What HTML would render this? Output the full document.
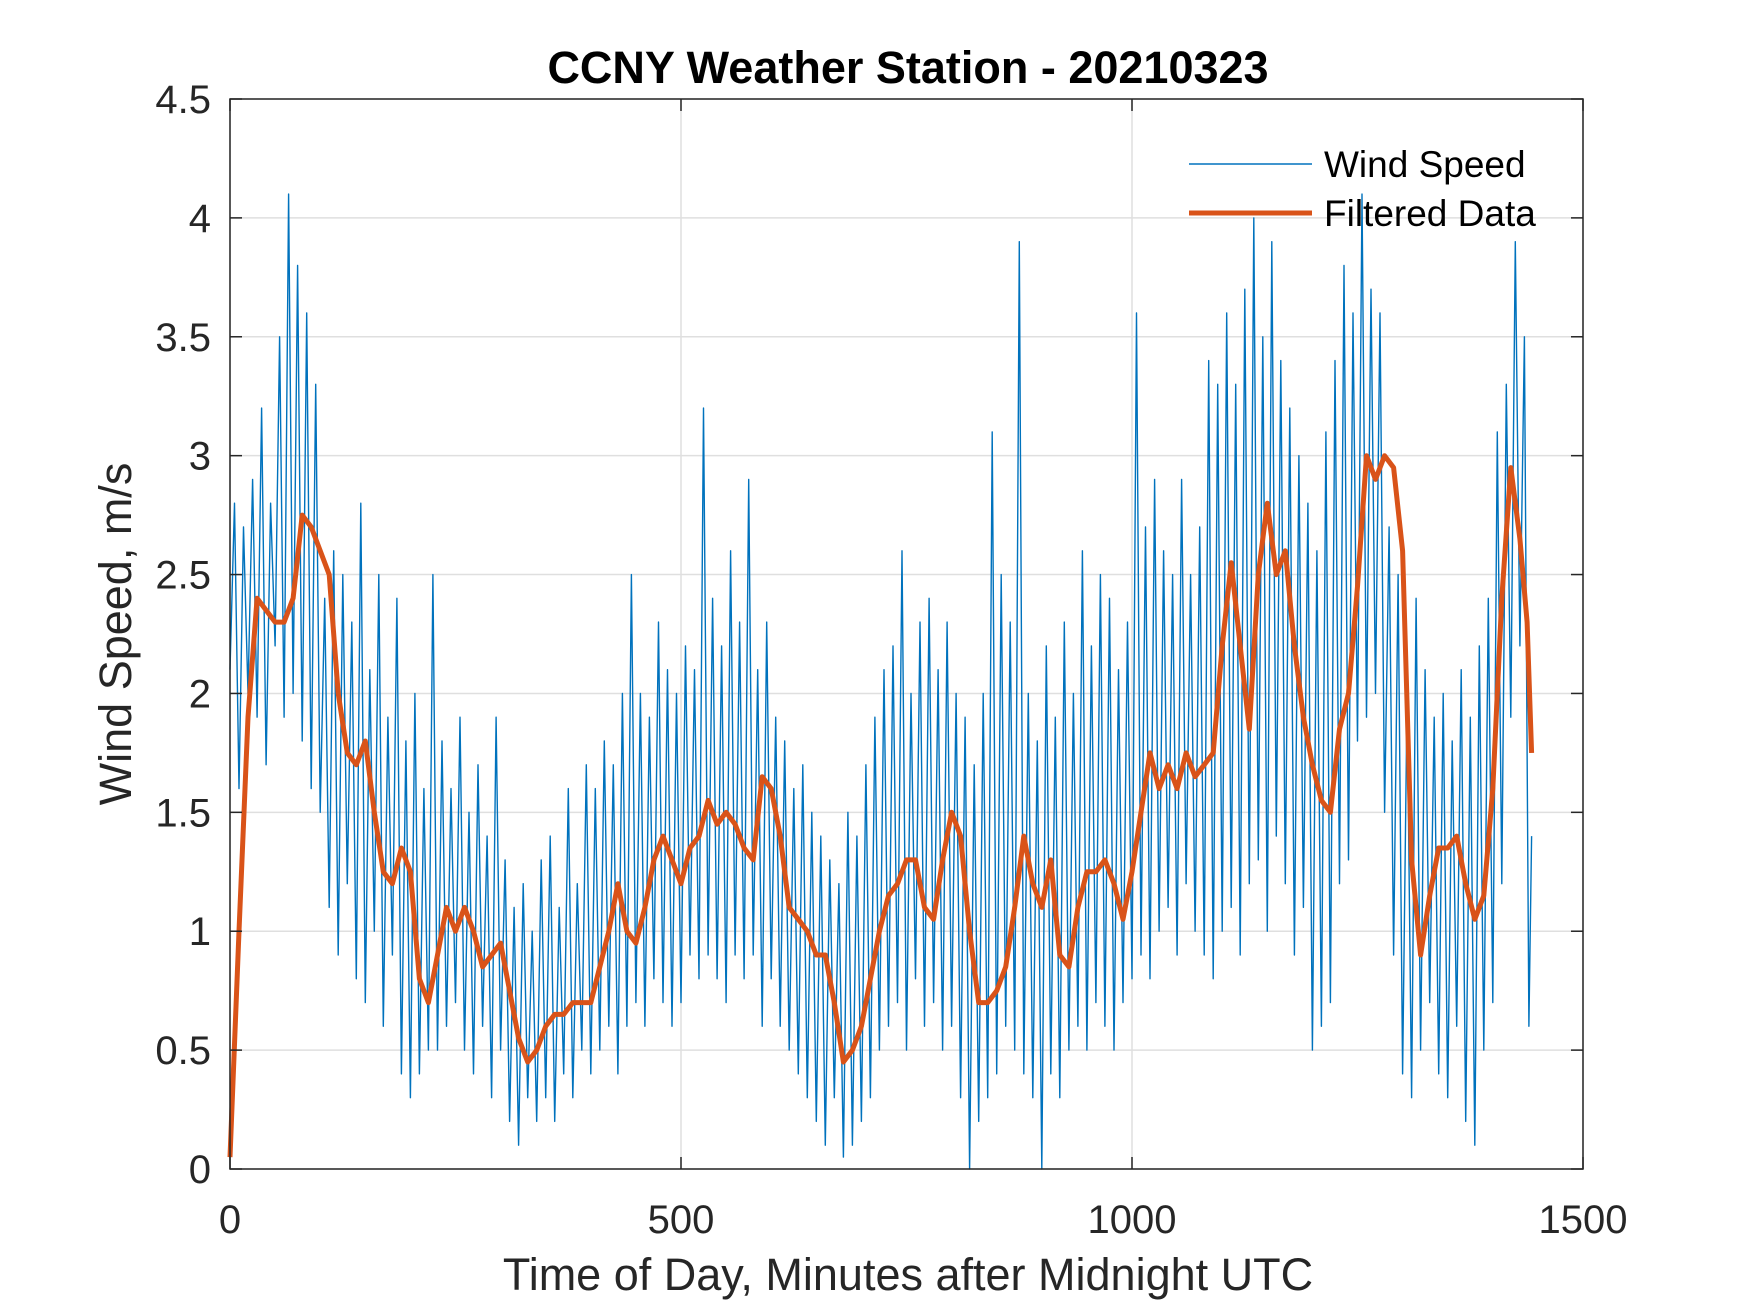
<!DOCTYPE html>
<html><head><meta charset="utf-8"><style>
html,body{margin:0;padding:0;background:#fff}
svg{display:block;font-family:"Liberation Sans",Arial,sans-serif}
</style></head><body>
<svg id="chart" width="1750" height="1313" viewBox="0 0 1750 1313">
<rect width="1750" height="1313" fill="#fff"/>
<g id="grid"></g>
<g id="series"></g>
<g id="axes"></g>
<text x="908" y="83" text-anchor="middle" font-size="45" font-weight="bold" fill="#000">CCNY Weather Station - 20210323</text>
<text x="908" y="1290" text-anchor="middle" font-size="45" fill="#262626">Time of Day, Minutes after Midnight UTC</text>
<text transform="translate(131,634) rotate(-90)" text-anchor="middle" font-size="45" fill="#262626">Wind Speed, m/s</text>
<g>
<line x1="1189" y1="164" x2="1312" y2="164" stroke="#0072BD" stroke-width="1.5"/>
<text x="1324" y="177" font-size="37" fill="#000">Wind Speed</text>
<line x1="1189" y1="213" x2="1312" y2="213" stroke="#D95319" stroke-width="5"/>
<text x="1324" y="226" font-size="37" fill="#000">Filtered Data</text>
</g>
</svg>
<script>
const xTicks=[0,500,1000,1500];
const yTicks=[0,0.5,1,1.5,2,2.5,3,3.5,4,4.5];
const yTickLabels=["0","0.5","1","1.5","2","2.5","3","3.5","4","4.5"];
const rawStep=5;
const rawSpeed=[2.1,2.8,1.6,2.7,2.0,2.9,1.9,3.2,1.7,2.8,2.2,3.5,1.9,4.1,2.0,3.8,1.8,3.6,1.6,3.3,1.5,
2.4,1.1,2.6,0.9,2.5,1.2,2.3,0.8,2.8,0.7,2.1,1.0,2.5,0.6,1.9,0.9,2.4,0.4,1.8,0.3,
2.0,0.4,1.6,0.5,2.5,0.5,1.8,0.6,1.6,0.7,1.9,0.5,1.5,0.4,1.7,0.6,1.4,0.3,1.9,0.5,
1.3,0.2,1.1,0.1,1.2,0.3,1.0,0.2,1.3,0.3,1.4,0.2,1.1,0.4,1.6,0.3,1.2,0.5,1.7,0.4,
1.6,0.5,1.8,0.6,1.7,0.4,2.0,0.6,2.5,0.7,2.0,0.6,1.9,0.8,2.3,0.7,2.1,0.6,2.0,0.7,
2.2,0.9,2.1,0.8,3.2,0.9,2.4,0.8,2.2,0.7,2.6,0.9,2.3,0.8,2.9,0.9,2.1,0.6,2.3,0.8,
1.9,0.6,1.8,0.5,1.6,0.4,1.7,0.3,1.5,0.2,1.4,0.1,1.3,0.3,1.2,0.05,1.5,0.1,1.4,0.2,
1.7,0.3,1.9,0.5,2.1,0.6,2.2,0.7,2.6,0.5,2.0,0.8,2.3,0.6,2.4,0.7,2.1,0.5,2.3,0.6,
2.0,0.3,1.9,0.0,1.7,0.2,2.0,0.3,3.1,0.4,2.5,0.6,2.3,0.5,3.9,0.4,2.0,0.3,1.8,0.0,
2.2,0.4,1.9,0.3,2.3,0.5,2.0,0.6,2.6,0.5,2.2,0.7,2.5,0.6,2.4,0.5,2.1,0.7,2.3,0.8,
3.6,0.9,2.7,0.8,2.9,1.0,2.6,1.1,2.5,0.9,2.9,1.2,2.5,1.0,2.7,0.9,3.4,0.8,3.3,1.0,
3.6,1.1,3.3,0.9,3.7,1.2,4.0,1.3,3.5,1.0,3.9,1.4,3.4,1.2,3.2,0.9,3.0,1.1,2.8,0.5,
2.6,0.6,3.1,0.7,3.4,1.2,3.8,1.3,3.6,1.8,4.1,1.9,3.7,2.0,3.6,1.5,2.7,0.9,2.5,0.4,
2.0,0.3,2.4,0.5,2.1,0.7,1.9,0.4,2.0,0.3,1.8,0.6,2.1,0.2,1.9,0.1,2.2,0.5,2.4,0.7,
3.1,1.2,3.3,1.9,3.9,2.2,3.5,0.6,1.4];
const filtX=[0,10,20,30,40,50,60,70,80,90,
100,110,120,130,140,150,160,170,180,190,
200,210,220,230,240,250,260,270,280,290,
300,310,320,330,340,350,360,370,380,390,
400,410,420,430,440,450,460,470,480,490,
500,510,520,530,540,550,560,570,580,590,
600,610,620,630,640,650,660,670,680,690,
700,710,720,730,740,750,760,770,780,790,
800,810,820,830,840,850,860,870,880,890,
900,910,920,930,940,950,960,970,980,990,
1000,1010,1020,1030,1040,1050,1060,1070,1080,1090,
1100,1110,1120,1130,1140,1150,1160,1170,1180,1190,
1200,1210,1220,1230,1240,1250,1260,1270,1280,1290,
1300,1310,1320,1330,1340,1350,1360,1370,1380,1390,
1400,1410,1420,1430,1438,1443];
const filtY=[0.05,1.0,1.9,2.4,2.35,2.3,2.3,2.4,2.75,2.7,
2.6,2.5,2.0,1.75,1.7,1.8,1.5,1.25,1.2,1.35,
1.25,0.8,0.7,0.9,1.1,1.0,1.1,1.0,0.85,0.9,
0.95,0.75,0.55,0.45,0.5,0.6,0.65,0.65,0.7,0.7,
0.7,0.85,1.0,1.2,1.0,0.95,1.1,1.3,1.4,1.3,
1.2,1.35,1.4,1.55,1.45,1.5,1.45,1.35,1.3,1.65,
1.6,1.4,1.1,1.05,1.0,0.9,0.9,0.7,0.45,0.5,
0.6,0.8,1.0,1.15,1.2,1.3,1.3,1.1,1.05,1.3,
1.5,1.4,1.0,0.7,0.7,0.75,0.85,1.1,1.4,1.2,
1.1,1.3,0.9,0.85,1.1,1.25,1.25,1.3,1.2,1.05,
1.25,1.5,1.75,1.6,1.7,1.6,1.75,1.65,1.7,1.75,
2.2,2.55,2.2,1.85,2.5,2.8,2.5,2.6,2.2,1.9,
1.7,1.55,1.5,1.85,2.0,2.45,3.0,2.9,3.0,2.95,
2.6,1.3,0.9,1.15,1.35,1.35,1.4,1.2,1.05,1.15,
1.6,2.4,2.95,2.65,2.3,1.75];
const L=230,R=1583,T=99,B=1169,XMAX=1500,YMAX=4.5;
const sx=v=>L+v/XMAX*(R-L), sy=v=>B-v/YMAX*(B-T);
const NS="http://www.w3.org/2000/svg";
function mk(tag,attrs,parent){const e=document.createElementNS(NS,tag);for(const k in attrs)e.setAttribute(k,attrs[k]);parent.appendChild(e);return e;}
const grid=document.getElementById('grid'),axes=document.getElementById('axes'),series=document.getElementById('series');
xTicks.forEach(t=>{const x=sx(t);
 const g=mk('line',{x1:x,y1:T,x2:x,y2:B,stroke:'#dfdfdf','stroke-width':1.5},grid);
 
 
 const a=mk('line',{x1:x,y1:B,x2:x,y2:B-12,stroke:'#262626','stroke-width':1.5},axes);
 
 
 const b=mk('line',{x1:x,y1:T,x2:x,y2:T+12,stroke:'#262626','stroke-width':1.5},axes);
 
 
 const tx=mk('text',{x:x,y:1233,'text-anchor':'middle','font-size':40,fill:'#262626'},axes);tx.textContent=String(t);
 
 
});
yTicks.forEach((t,i)=>{const y=sy(t);
 const g=mk('line',{x1:L,y1:y,x2:R,y2:y,stroke:'#dfdfdf','stroke-width':1.5},grid);
 
 
 const a=mk('line',{x1:L,y1:y,x2:L+12,y2:y,stroke:'#262626','stroke-width':1.5},axes);
 
 
 const b=mk('line',{x1:R,y1:y,x2:R-12,y2:y,stroke:'#262626','stroke-width':1.5},axes);
 
 
 const tx=mk('text',{x:211,y:y+14,'text-anchor':'end','font-size':40,fill:'#262626'},axes);tx.textContent=yTickLabels[i];
 
 
});
const box=mk('rect',{x:L,y:T,width:R-L,height:B-T,fill:'none',stroke:'#262626','stroke-width':1.5},axes);


const rawPts=rawSpeed.map((v,i)=>sx(Math.min(i*rawStep,1443)).toFixed(1)+','+sy(v).toFixed(1)).join(' ');
const raw=mk('polyline',{points:rawPts,fill:'none',stroke:'#0072BD','stroke-width':1.4,'stroke-linejoin':'round'},series);


const fPts=filtY.map((v,i)=>sx(filtX[i]).toFixed(1)+','+sy(v).toFixed(1)).join(' ');
const filt=mk('polyline',{points:fPts,fill:'none',stroke:'#D95319','stroke-width':5,'stroke-linejoin':'round'},series);


</script>
</body></html>
